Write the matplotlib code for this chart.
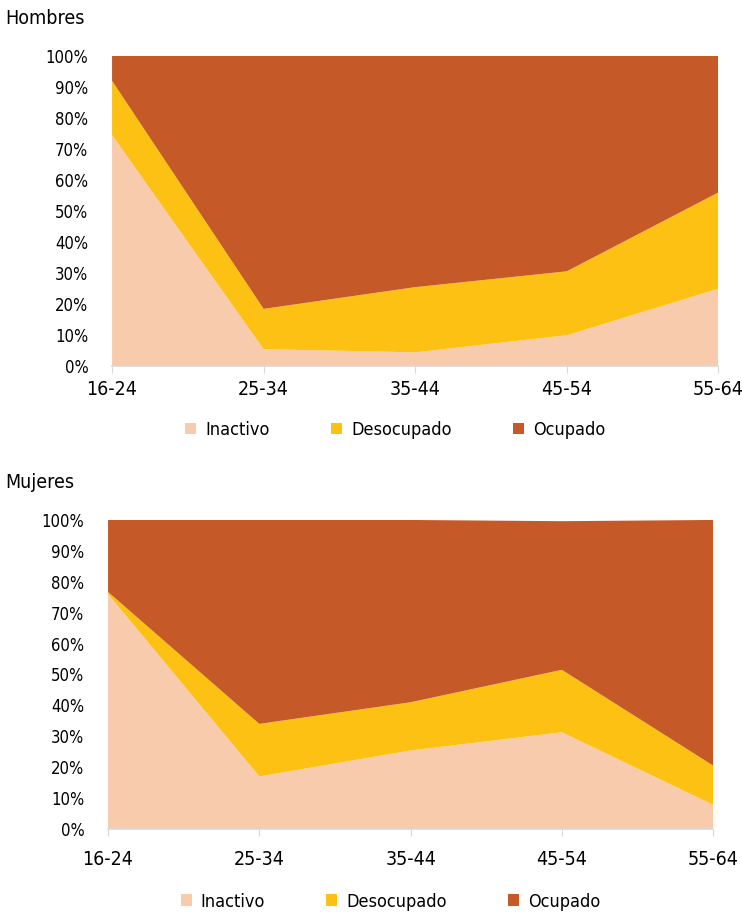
import numpy as np
import matplotlib.pyplot as plt
from matplotlib import font_manager as fm

grupos = ["16-24", "25-34", "35-44", "45-54", "55-64"]
series = ["Inactivo", "Desocupado", "Ocupado"]
colores = ["#F8CBAD", "#FCC113", "#C55A28"]

# Hombres (%)
h_inactivo = [74.5, 5.5, 4.5, 10.0, 25.0]
h_desocupado = [17.5, 13.0, 21.0, 20.6, 31.0]
h_ocupado = [8.0, 81.5, 74.5, 69.4, 44.0]

# Mujeres (%)
m_inactivo = [76.0, 17.0, 25.4, 31.3, 7.8]
m_desocupado = [0.7, 17.0, 15.6, 20.2, 12.7]
m_ocupado = [23.3, 66.0, 59.0, 48.1, 79.5]

# buscar una fuente estrecha si hay alguna
fuentes = fm.fontManager.ttflist
estrecha = None
for f in fuentes:
    if f.stretch in ("condensed", "semi-condensed", "extra-condensed") or \
       "Narrow" in f.name or "Condensed" in f.name:
        estrecha = f
        break
if estrecha is not None:
    plt.rcParams['font.family'] = [estrecha.name, 'DejaVu Sans']
    plt.rcParams['font.stretch'] = estrecha.stretch
    escala = 1.0
else:
    plt.rcParams['font.family'] = ['DejaVu Sans']
    escala = 0.82


def panel(ax, titulo, datos, pad_x, leg_y):
    x = np.arange(len(grupos))
    ax.stackplot(x, *datos, colors=colores, labels=series)
    ax.set_xlim(0, len(grupos) - 1)
    ax.set_ylim(0, 100)
    ax.set_yticks(range(0, 101, 10))
    ax.set_yticklabels([f"{v}%" for v in range(0, 101, 10)], fontsize=12 * escala)
    ax.set_xticks(x)
    ax.set_xticklabels(grupos, fontsize=14 * escala)
    for s in ["top", "right", "left"]:
        ax.spines[s].set_visible(False)
    ax.spines["bottom"].set_color("#D9D9D9")
    ax.spines["bottom"].set_linewidth(1.2)
    ax.tick_params(axis="y", length=0, pad=17)
    ax.tick_params(axis="x", length=5, color="#D9D9D9", pad=pad_x)
    ax.legend(loc="center", bbox_to_anchor=(0.467, leg_y), ncol=3,
              frameon=False, fontsize=13 * escala, handlelength=0.6,
              handleheight=0.6, columnspacing=3.4, handletextpad=0.5)
    pos = ax.get_position()
    ax.figure.text(5 / 742, pos.y1 + 0.03, titulo, fontsize=14 * escala,
                   ha="left", va="bottom")


fig = plt.figure(figsize=(7.42, 9.18), dpi=100)
ax1 = fig.add_axes([0.151, 0.601, 0.817, 0.338])
ax2 = fig.add_axes([0.1456, 0.097, 0.8155, 0.3366])

panel(ax1, "Hombres", [h_inactivo, h_desocupado, h_ocupado], 5, -0.205)
panel(ax2, "Mujeres", [m_inactivo, m_desocupado, m_ocupado], 10, -0.235)

fig.savefig("out.png", dpi=100)
